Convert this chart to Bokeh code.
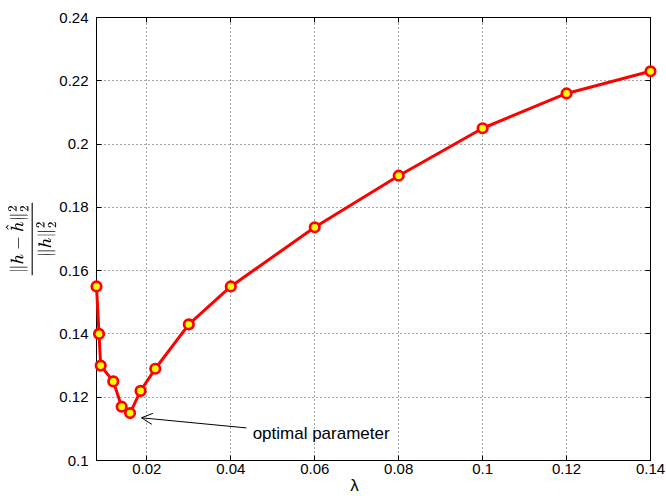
from bokeh.plotting import figure
from bokeh.models import Range1d, LinearAxis, FixedTicker, Label, Arrow, OpenHead, TeX
from bokeh.core.properties import value
from bokeh.embed import file_html
from bokeh.resources import INLINE

# ---- data ----
lam = [0.008, 0.0086, 0.009, 0.012, 0.014, 0.016, 0.0185, 0.022, 0.030,
       0.040, 0.060, 0.080, 0.100, 0.120, 0.140]
err = [0.155, 0.140, 0.130, 0.125, 0.117, 0.115, 0.122, 0.129, 0.143,
       0.155, 0.1737, 0.190, 0.205, 0.216, 0.223]

x_ticks = [0.02, 0.04, 0.06, 0.08, 0.1, 0.12, 0.14]
x_tick_labels = ["0.02", "0.04", "0.06", "0.08", "0.1", "0.12", "0.14"]
y_ticks = [0.1, 0.12, 0.14, 0.16, 0.18, 0.2, 0.22, 0.24]
y_tick_labels = ["0.1", "0.12", "0.14", "0.16", "0.18", "0.2", "0.22", "0.24"]

x_label = "λ"
y_label = r"\frac{\|h-\hat{h}\|_2^2}{\|h\|_2^2}"
note_text = "optimal parameter"

# annotation placement (data coordinates)
NOTE_X, NOTE_Y = 0.0452, 0.1086
ARROW_FROM = (0.0437, 0.1103)
ARROW_TO = (0.0187, 0.1135)
XLABEL_X, XLABEL_Y = 0.0695, 0.0890

FONT = "Liberation Sans"

p = figure(width=666, height=496,
           x_range=Range1d(0.008, 0.14), y_range=Range1d(0.1, 0.24),
           output_backend="svg", toolbar_location=None,
           min_border_left=94, min_border_right=16, min_border_top=17,
           min_border_bottom=36)
p.background_fill_color = "white"
p.border_fill_color = "white"
p.outline_line_color = "black"
p.outline_line_width = 1
p.outline_line_alpha = 1

bottom = p.below[0]
left = p.left[0]

xt = FixedTicker(ticks=x_ticks)
yt = FixedTicker(ticks=y_ticks)
bottom.ticker = xt
left.ticker = yt
p.xgrid.ticker = xt
p.ygrid.ticker = yt
bottom.major_label_overrides = dict(zip(x_ticks, x_tick_labels))
left.major_label_overrides = dict(zip(y_ticks, y_tick_labels))

top = LinearAxis(ticker=xt)
right = LinearAxis(ticker=yt)
p.add_layout(top, "above")
p.add_layout(right, "right")

for ax in [bottom, left, top, right]:
    ax.axis_line_color = "black"
    ax.axis_line_width = 1
    ax.major_tick_in = 5
    ax.major_tick_out = 0
    ax.major_tick_line_color = "black"
    ax.minor_tick_line_color = None
    ax.major_label_text_font = FONT

for ax in [top, right]:
    ax.major_label_text_color = None
    ax.major_label_text_font_size = "1px"
    ax.major_label_standoff = 0

for ax in [bottom, left]:
    ax.major_label_text_font_size = "15px"
    ax.major_label_text_color = "black"
bottom.major_label_standoff = 3
left.major_label_standoff = 8

left.axis_label = TeX(y_label)
left.axis_label_text_font_size = "14.5px"
left.axis_label_standoff = 0
left.axis_label_text_color = "black"

p.grid.grid_line_color = "black"
p.grid.grid_line_alpha = 0.7
p.grid.grid_line_dash = "1 3"
p.grid.grid_line_width = 1

line = p.line(lam, err, line_color="red", line_width=3)
pts = p.scatter(lam, err, size=9.5, fill_color="yellow", line_color="red", line_width=2.7)
line.level = "overlay"
pts.level = "overlay"

p.add_layout(Arrow(end=OpenHead(size=11, line_width=1, line_color="black"),
                   x_start=ARROW_FROM[0], y_start=ARROW_FROM[1],
                   x_end=ARROW_TO[0], y_end=ARROW_TO[1],
                   line_width=1, line_color="black"))
p.add_layout(Label(x=NOTE_X, y=NOTE_Y, text=note_text, text_font=FONT,
                   text_font_size="17px", text_baseline="alphabetic", text_align="left",
                   text_color="black"))
xl = p.text(x=[XLABEL_X], y=[XLABEL_Y], text=[x_label], text_font=value(FONT),
            text_font_size="17px", text_baseline="bottom", text_align="center",
            text_color="black")
xl.level = "overlay"

open("out.html", "w").write(file_html(p, INLINE))
